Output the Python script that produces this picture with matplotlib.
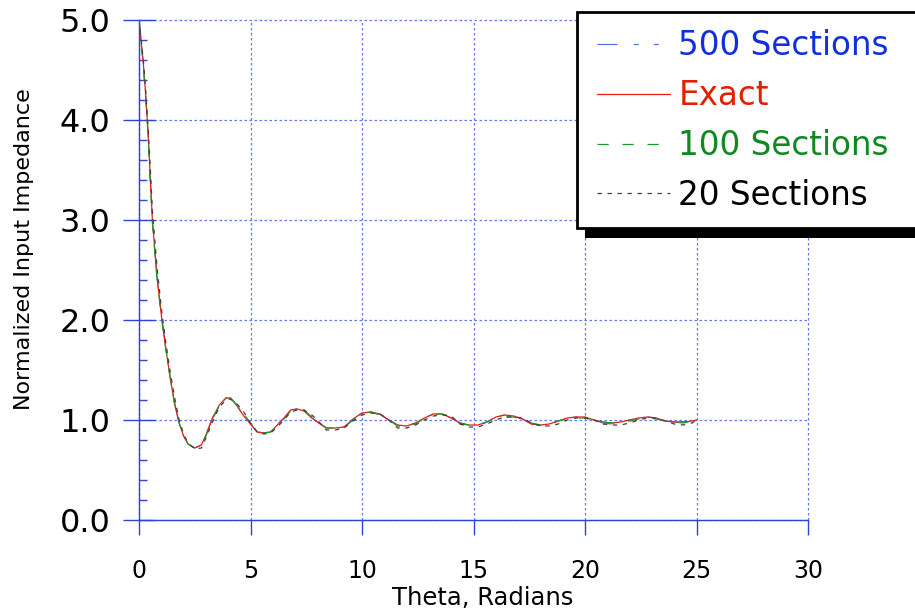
import numpy as np
import matplotlib
matplotlib.use("Agg")
import matplotlib.pyplot as plt
from matplotlib.patches import Rectangle
from matplotlib.ticker import MultipleLocator, FormatStrFormatter

# theta sample points (radians)
theta = [0.0, 0.1, 0.2, 0.3, 0.4, 0.5, 0.6, 0.8, 1.0, 1.2, 1.4, 1.6, 1.8, 2.0, 2.2, 2.5,
         2.8, 3.0, 3.3, 3.6, 3.9, 4.1, 4.4, 4.7, 5.0, 5.3, 5.6, 5.9, 6.2, 6.5, 6.8, 7.1,
         7.4, 7.7, 8.0, 8.4, 8.8, 9.2, 9.6, 10.0, 10.4, 10.8, 11.2, 11.6, 12.0, 12.4, 12.8,
         13.2, 13.6, 14.0, 14.4, 14.8, 15.2, 15.6, 16.0, 16.4, 16.8, 17.2, 17.6, 18.0, 18.4,
         18.8, 19.2, 19.6, 20.0, 20.4, 20.8, 21.2, 21.6, 22.0, 22.4, 22.8, 23.2, 23.6, 24.0,
         24.4, 24.8, 25.0]

z_exact = [5.00, 4.78, 4.55, 4.25, 3.90, 3.45, 3.00, 2.45, 2.05, 1.72, 1.42, 1.16, 0.97, 0.84, 0.76, 0.72,
           0.75, 0.85, 1.02, 1.15, 1.22, 1.22, 1.14, 1.04, 0.96, 0.88, 0.87, 0.88, 0.95, 1.02, 1.10, 1.11,
           1.09, 1.03, 0.98, 0.92, 0.92, 0.93, 1.01, 1.07, 1.08, 1.06, 1.00, 0.95, 0.94, 0.97, 1.02,
           1.06, 1.06, 1.02, 0.97, 0.95, 0.95, 0.98, 1.03, 1.05, 1.04, 1.01, 0.96, 0.95, 0.96,
           0.99, 1.02, 1.03, 1.03, 1.00, 0.98, 0.97, 0.98, 1.00, 1.02, 1.03, 1.02, 0.99, 0.98,
           0.98, 0.99, 1.00]

z_500 = [5.00, 4.77, 4.55, 4.24, 3.90, 3.44, 3.00, 2.45, 2.05, 1.72, 1.42, 1.16, 0.97, 0.84, 0.76, 0.72,
         0.75, 0.85, 1.02, 1.15, 1.22, 1.22, 1.14, 1.04, 0.96, 0.88, 0.87, 0.88, 0.95, 1.02, 1.10, 1.11,
         1.09, 1.03, 0.98, 0.92, 0.92, 0.93, 1.01, 1.07, 1.08, 1.06, 1.00, 0.95, 0.94, 0.97, 1.02,
         1.06, 1.06, 1.02, 0.97, 0.95, 0.95, 0.98, 1.03, 1.05, 1.04, 1.01, 0.96, 0.95, 0.96,
         0.99, 1.02, 1.03, 1.03, 1.00, 0.97, 0.96, 0.98, 1.00, 1.02, 1.03, 1.02, 0.99, 0.98,
         0.98, 0.99, 1.00]

z_100 = [5.00, 4.76, 4.52, 4.22, 3.88, 3.42, 2.98, 2.43, 2.04, 1.71, 1.42, 1.16, 0.97, 0.84, 0.76, 0.72,
         0.74, 0.84, 1.01, 1.14, 1.21, 1.22, 1.15, 1.06, 0.97, 0.89, 0.87, 0.88, 0.94, 1.01, 1.09, 1.11,
         1.10, 1.04, 0.99, 0.92, 0.92, 0.93, 1.00, 1.07, 1.08, 1.05, 1.00, 0.94, 0.93, 0.96, 1.02,
         1.06, 1.06, 1.03, 0.96, 0.95, 0.95, 0.98, 1.02, 1.03, 1.03, 1.01, 0.97, 0.95, 0.96,
         0.99, 1.01, 1.02, 1.02, 1.00, 0.98, 0.97, 0.97, 0.99, 1.01, 1.02, 1.01, 0.99, 0.98,
         0.97, 0.99, 1.00]

z_20 = [5.00, 4.80, 4.58, 4.30, 3.95, 3.55, 3.10, 2.55, 2.12, 1.78, 1.48, 1.22, 1.00, 0.86, 0.77, 0.71,
        0.72, 0.82, 0.98, 1.13, 1.20, 1.21, 1.16, 1.08, 0.97, 0.88, 0.86, 0.87, 0.93, 1.00, 1.08, 1.10,
        1.10, 1.06, 1.00, 0.90, 0.90, 0.92, 0.99, 1.05, 1.07, 1.06, 1.00, 0.92, 0.92, 0.95, 1.00,
        1.04, 1.05, 1.04, 0.96, 0.93, 0.93, 0.96, 1.00, 1.03, 1.03, 1.02, 0.97, 0.94, 0.94,
        0.96, 1.00, 1.02, 1.02, 1.00, 0.96, 0.95, 0.95, 0.97, 1.00, 1.02, 1.02, 0.99, 0.96,
        0.95, 0.97, 1.00]

labels = ['500 Sections', 'Exact', '100 Sections', '20 Sections']
line_colors = ['#5870e8', '#e82010', '#1a9a2a', '#404040']
text_colors = ['#1030e0', '#e02000', '#108a20', '#000000']
styles = [(0, (16, 13, 4, 12, 4, 12)), '-', (0, (9, 11)), (0, (3.5, 4.5))]

axis_blue = '#2c44d8'
grid_blue = '#6478ea'

plt.rcParams['font.family'] = ['DejaVu Sans']

fig = plt.figure(figsize=(9.15, 6.15), dpi=100)
ax = fig.add_axes([139 / 915, 1 - 520 / 615, (808 - 139) / 915, 500 / 615])

series = [z_500, z_exact, z_100, z_20]
handles = []
for z, c, ls, lab in zip(series, line_colors, styles, labels):
    h, = ax.plot(theta, z, color=c, linestyle=ls, linewidth=0.9, label=lab)
    handles.append(h)

ax.set_xlim(0, 30)
ax.set_ylim(0, 5)
ax.xaxis.set_major_locator(MultipleLocator(5))
ax.yaxis.set_major_locator(MultipleLocator(1))
ax.yaxis.set_minor_locator(MultipleLocator(0.2))
ax.yaxis.set_major_formatter(FormatStrFormatter('%.1f'))

for s in ['top', 'right']:
    ax.spines[s].set_visible(False)
for s in ['left', 'bottom']:
    ax.spines[s].set_color(axis_blue)
    ax.spines[s].set_linewidth(1.0)

ax.grid(True, which='major', color=grid_blue, linestyle=(0, (2, 2)), linewidth=0.9)
ax.set_axisbelow(True)
# keep the grid lines on the top and right edges fully visible
for gl in ax.get_xgridlines() + ax.get_ygridlines():
    gl.set_clip_on(False)

ax.tick_params(axis='x', which='major', direction='out', length=11, width=1,
               color=axis_blue, labelsize=17, pad=17)
ax.tick_params(axis='y', which='major', direction='inout', length=23, width=1,
               color=axis_blue, labelsize=23, pad=9)
ax.tick_params(axis='y', which='minor', direction='in', length=6, width=1, color=axis_blue)

ax.set_xlabel('Theta, Radians', fontsize=17.5)
ax.set_ylabel('Normalized Input Impedance', fontsize=16)
ax.xaxis.set_label_coords(0.514, -0.132)
ax.yaxis.set_label_coords(-0.157, 0.542)

# legend box with a solid drop shadow
fig.patches.append(Rectangle((585 / 915, 1 - 238 / 615), 0.5, 216 / 615,
                             transform=fig.transFigure, facecolor='black',
                             edgecolor='none', zorder=5))
fig.patches.append(Rectangle((577 / 915, 1 - 228 / 615), 0.5, 216 / 615,
                             transform=fig.transFigure, facecolor='white',
                             edgecolor='black', linewidth=2, zorder=6))

leg = fig.legend(handles=handles, labels=labels, loc='upper left',
                 bbox_to_anchor=(597 / 915, 1 - 29 / 615), frameon=False,
                 fontsize=23.5, handlelength=2.24, handletextpad=0.25,
                 labelspacing=0.52, borderpad=0, borderaxespad=0)
leg.set_zorder(7)
for t, c in zip(leg.get_texts(), text_colors):
    t.set_color(c)

fig.savefig('out.png', dpi=100)
